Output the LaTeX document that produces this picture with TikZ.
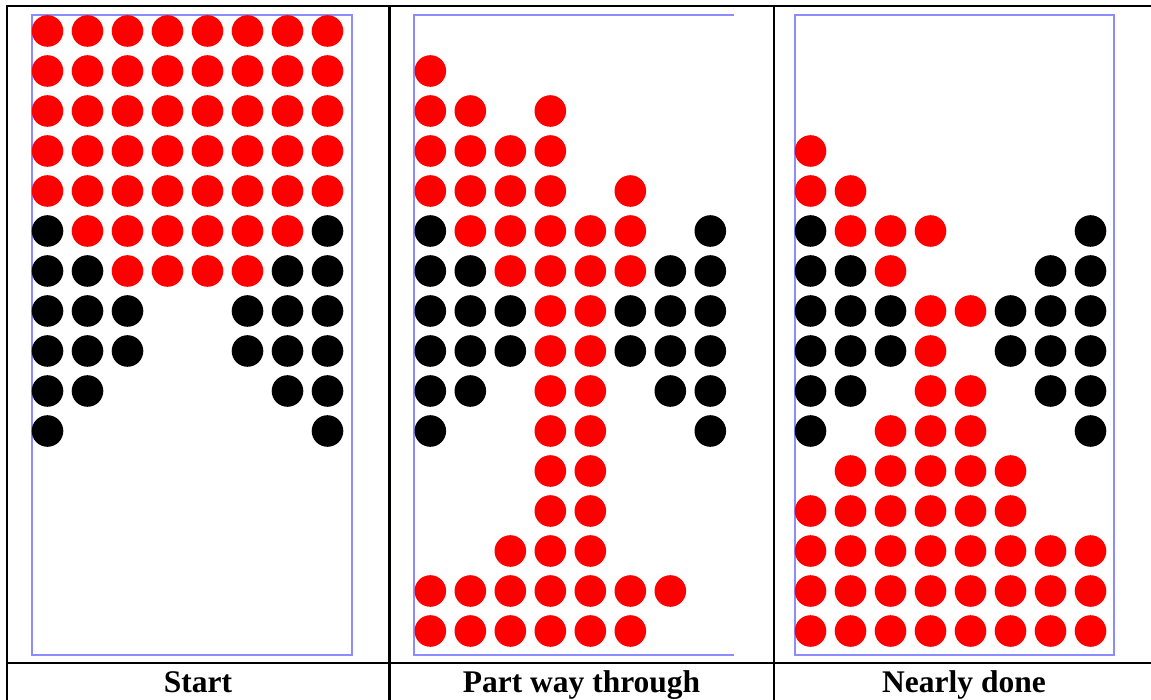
\documentclass[tikz,border=0pt]{standalone}
\usepackage{fontspec}
\setmainfont{Liberation Serif}
\definecolor{boxblue}{RGB}{140,140,255}
\newcommand{\ballgrid}[2]{%
  \foreach \row [count=\j from 0] in {#2} {
    \foreach \c [count=\i from 0] in \row {
      \if\c r \fill[redball] (#1+40*\i, 31+40*\j) circle[radius=15.8pt];\fi
      \if\c k \fill[blackball] (#1+40*\i, 31+40*\j) circle[radius=15.8pt];\fi
    }
  }}
\tikzset{
  redball/.style={fill=red},
  blackball/.style={fill=black},
  tableline/.style={draw=black, line width=2.3pt},
  frameline/.style={draw=boxblue, line width=2pt},
  caption/.style={anchor=base, font=\bfseries\fontsize{31.5}{36}\selectfont, inner sep=0pt}
}
\begin{document}
\begin{tikzpicture}[x=1pt,y=-1pt]
\useasboundingbox (0,0) rectangle (1151,700);
% table
\draw[tableline] (1151,6) -- (6.7,6) -- (6.7,700);
\draw[tableline] (389.5,6) -- (389.5,700);
\draw[tableline] (774,6) -- (774,700);
\draw[tableline] (6.7,663.3) -- (1151,663.3);
% frames
\draw[frameline] (31.5,15) rectangle (351.5,655);
\draw[frameline] (734,15) -- (414.3,15) -- (414.3,655) -- (734,655);
\draw[frameline] (794.5,15) rectangle (1113.5,655);
% Start
\ballgrid{47.5}{
 {r,r,r,r,r,r,r,r},
 {r,r,r,r,r,r,r,r},
 {r,r,r,r,r,r,r,r},
 {r,r,r,r,r,r,r,r},
 {r,r,r,r,r,r,r,r},
 {k,r,r,r,r,r,r,k},
 {k,k,r,r,r,r,k,k},
 {k,k,k,n,n,k,k,k},
 {k,k,k,n,n,k,k,k},
 {k,k,n,n,n,n,k,k},
 {k,n,n,n,n,n,n,k}}
% Part way through
\ballgrid{430.3}{
 {n,n,n,n,n,n,n,n},
 {r,n,n,n,n,n,n,n},
 {r,r,n,r,n,n,n,n},
 {r,r,r,r,n,n,n,n},
 {r,r,r,r,n,r,n,n},
 {k,r,r,r,r,r,n,k},
 {k,k,r,r,r,r,k,k},
 {k,k,k,r,r,k,k,k},
 {k,k,k,r,r,k,k,k},
 {k,k,n,r,r,n,k,k},
 {k,n,n,r,r,n,n,k},
 {n,n,n,r,r,n,n,n},
 {n,n,n,r,r,n,n,n},
 {n,n,r,r,r,n,n,n},
 {r,r,r,r,r,r,r,n},
 {r,r,r,r,r,r,n,n}}
% Nearly done
\ballgrid{810.5}{
 {n,n,n,n,n,n,n,n},
 {n,n,n,n,n,n,n,n},
 {n,n,n,n,n,n,n,n},
 {r,n,n,n,n,n,n,n},
 {r,r,n,n,n,n,n,n},
 {k,r,r,r,n,n,n,k},
 {k,k,r,n,n,n,k,k},
 {k,k,k,r,r,k,k,k},
 {k,k,k,r,n,k,k,k},
 {k,k,n,r,r,n,k,k},
 {k,n,r,r,r,n,n,k},
 {n,r,r,r,r,r,n,n},
 {r,r,r,r,r,r,n,n},
 {r,r,r,r,r,r,r,r},
 {r,r,r,r,r,r,r,r},
 {r,r,r,r,r,r,r,r}}
% captions
\node[caption] (start) at (198,692) {Start};
\node[caption] (part) at (581.5,692) {Part way through};
\node[caption] (nearly) at (964,692) {Nearly done};
\end{tikzpicture}
\end{document}
